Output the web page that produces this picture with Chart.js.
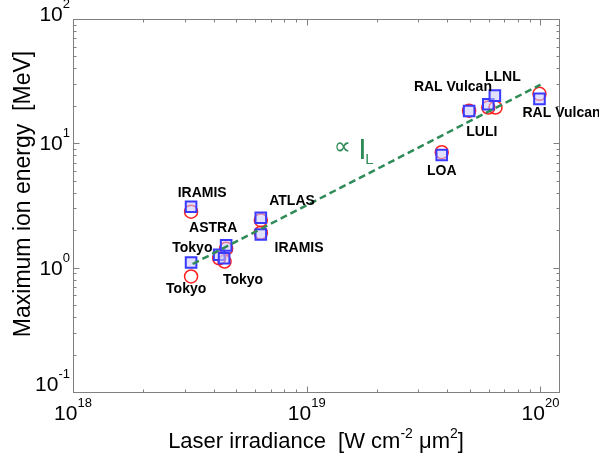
<!DOCTYPE html>
<html lang="en">
<head>
<meta charset="UTF-8">
<title>Maximum ion energy vs laser irradiance</title>
<script src="https://cdn.jsdelivr.net/npm/chart.js"></script>
<style>body{margin:0;background:#fff}</style>
</head>
<body>
<canvas id="myChart" width="599" height="456"></canvas>
<script>
// blue squares and red circles, one pair per experiment
const squareX = [3.2e18, 3.2e18, 4.22e18, 4.43e18, 4.52e18, 6.36e18, 6.36e18, 3.78e19, 4.95e19, 5.98e19, 6.38e19, 9.9e19];
const squareY = [3.09, 1.10, 1.27, 1.19, 1.51, 2.52, 1.85, 8.06, 18.2, 20.6, 24.2, 22.8];
const circleX = [3.2e18, 3.2e18, 4.22e18, 4.45e18, 4.52e18, 6.36e18, 6.36e18, 3.78e19, 4.95e19, 5.98e19, 6.42e19, 9.9e19];
const circleY = [2.82, 0.85, 1.19, 1.12, 1.42, 2.41, 1.91, 8.48, 18.3, 19.4, 19.4, 25.0];

// scaling line  ~ I_L
const lineX = [3.25e18, 1.0e20];
const lineY = [1.07, 29.6];

const labelText = ["IRAMIS", "ATLAS", "ASTRA", "Tokyo", "IRAMIS", "Tokyo", "Tokyo",
                   "RAL Vulcan", "LLNL", "RAL Vulcan", "LULI", "LOA"];
const labelX = [3.57e18, 8.65e18, 3.98e18, 3.24e18, 9.27e18, 5.34e18, 3.05e18,
                4.22e19, 6.9e19, 1.23e20, 5.61e19, 3.78e19];
const labelY = [3.98, 3.44, 2.08, 1.44, 1.44, 0.80, 0.675,
                28.5, 34.3, 17.6, 12.4, 6.0];

const propX = 1.42e19, propY = 9.18;

const xExp = [18, 19, 20];
const yExp = [-1, 0, 1, 2];

const FONT = '"Liberation Sans", Arial, sans-serif';
const green = '#2e8b57';

function drawPow(ctx, exp, x, base, align) {
    ctx.font = '21px ' + FONT;
    const wb = ctx.measureText('10').width;
    ctx.font = '13px ' + FONT;
    const we = ctx.measureText(String(exp)).width;
    let left = align === 'right' ? x - wb - we : x - (wb + we) / 2;
    ctx.textAlign = 'left';
    ctx.textBaseline = 'alphabetic';
    ctx.font = '21px ' + FONT;
    ctx.fillText('10', left, base);
    ctx.font = '13px ' + FONT;
    ctx.fillText(String(exp), left + wb, base - 13);
}

// pieces: [text, isSuperscript]
function drawPieces(ctx, pieces, size, supSize) {
    let total = 0;
    for (const p of pieces) {
        ctx.font = (p[1] ? supSize : size) + 'px ' + FONT;
        total += ctx.measureText(p[0]).width;
    }
    let x = -total / 2;
    ctx.textAlign = 'left';
    ctx.textBaseline = 'alphabetic';
    for (const p of pieces) {
        ctx.font = (p[1] ? supSize : size) + 'px ' + FONT;
        ctx.fillText(p[0], x, p[1] ? -size * 0.45 : 0);
        x += ctx.measureText(p[0]).width;
    }
}

const decor = {
    id: 'decor',
    afterDraw(chart) {
        const ctx = chart.ctx;
        const xs = chart.scales.x, ys = chart.scales.y;
        const a = chart.chartArea;
        ctx.save();
        ctx.strokeStyle = '#808080';
        ctx.lineWidth = 1;
        const L = Math.round(a.left) + 0.5, R = Math.round(a.right) + 0.5;
        const T = Math.round(a.top) + 0.5, B = Math.round(a.bottom) + 0.5;
        ctx.strokeRect(L, T, R - L, B - T);

        ctx.beginPath();
        for (let d = 18; d <= 20; d++) {
            for (let k = 1; k <= 9; k++) {
                const v = k * Math.pow(10, d);
                if (v > xs.max) break;
                const px = Math.round(xs.getPixelForValue(v)) + 0.5;
                const len = k === 1 ? 6 : 3;
                ctx.moveTo(px, B); ctx.lineTo(px, B - len);
                ctx.moveTo(px, T); ctx.lineTo(px, T + len);
            }
        }
        for (let d = -1; d <= 2; d++) {
            for (let k = 1; k <= 9; k++) {
                const v = k * Math.pow(10, d);
                if (v > ys.max + 1e-9) break;
                const py = Math.round(ys.getPixelForValue(v)) + 0.5;
                const len = k === 1 ? 6 : 3;
                ctx.moveTo(L, py); ctx.lineTo(L + len, py);
                ctx.moveTo(R, py); ctx.lineTo(R - len, py);
            }
        }
        ctx.stroke();

        ctx.fillStyle = '#000';
        xExp.forEach(e => {
            drawPow(ctx, e, xs.getPixelForValue(Math.pow(10, e)), 420, 'center');
        });
        yExp.forEach((e, i) => {
            const py = ys.getPixelForValue(Math.pow(10, e));
            let base = py + 7;
            if (i === 0) base = py - 1;
            if (i === yExp.length - 1) base = py + 2;
            drawPow(ctx, e, 70, base, 'right');
        });

        // axis titles
        ctx.save();
        ctx.translate(316, 448);
        drawPieces(ctx, [['Laser irradiance  [W cm', false], ['-2', true], [' \u03bcm', false], ['2', true], [']', false]], 22, 14);
        ctx.restore();
        ctx.save();
        ctx.translate(30, 194);
        ctx.rotate(-Math.PI / 2);
        drawPieces(ctx, [['Maximum ion energy  [MeV]', false]], 23, 14);
        ctx.restore();

        // experiment labels
        ctx.font = 'bold 14px ' + FONT;
        ctx.textAlign = 'center';
        ctx.textBaseline = 'middle';
        labelText.forEach((t, i) => {
            ctx.fillText(t, xs.getPixelForValue(labelX[i]), ys.getPixelForValue(labelY[i]));
        });

        // proportional to I_L
        const gx = xs.getPixelForValue(propX), gy = ys.getPixelForValue(propY);
        ctx.fillStyle = green;
        ctx.font = '24px "DejaVu Sans", sans-serif';
        ctx.fillText('\u221d', gx, gy);
        ctx.textAlign = 'left';
        ctx.textBaseline = 'alphabetic';
        ctx.font = '30px ' + FONT;
        ctx.fillText('I', gx + 16, gy + 11);
        ctx.font = '15px ' + FONT;
        ctx.fillText('L', gx + 23, gy + 16);
        ctx.restore();
    }
};

new Chart(document.getElementById('myChart'), {
    type: 'scatter',
    data: {
        datasets: [
            {
                type: 'line',
                data: lineX.map((x, i) => ({ x: x, y: lineY[i] })),
                borderColor: green,
                borderWidth: 2.5,
                borderDash: [7, 4],
                pointRadius: 0,
                fill: false
            },
            {
                data: squareX.map((x, i) => ({ x: x, y: squareY[i] })),
                pointStyle: 'rect',
                pointRadius: 7.5,
                borderWidth: 2,
                borderColor: '#3a3aff',
                backgroundColor: 'rgba(200,200,255,0.55)'
            },
            {
                data: circleX.map((x, i) => ({ x: x, y: circleY[i] })),
                pointStyle: 'circle',
                pointRadius: 6.5,
                borderWidth: 1.5,
                borderColor: '#ff2020',
                backgroundColor: 'rgba(0,0,0,0)'
            }
        ]
    },
    options: {
        responsive: false,
        animation: false,
        layout: { autoPadding: false, padding: { left: 73, right: 40, top: 19, bottom: 64 } },
        plugins: { legend: { display: false }, tooltip: { enabled: false } },
        scales: {
            x: { type: 'logarithmic', min: 1e18, max: 1.2e20, display: false },
            y: { type: 'logarithmic', min: 0.1, max: 100, display: false }
        }
    },
    plugins: [decor]
});
</script>
</body>
</html>
